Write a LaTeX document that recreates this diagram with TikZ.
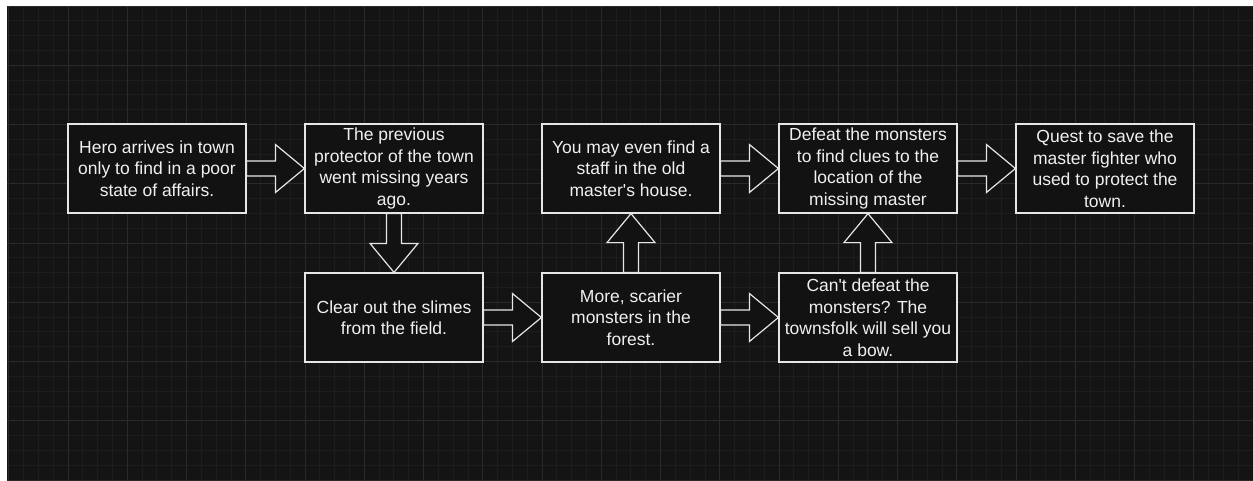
\documentclass[tikz,border=0pt]{standalone}
\usepackage{fontspec}
\setmainfont{Liberation Sans}
\usetikzlibrary{calc}
\definecolor{bgcol}{HTML}{141414}
\definecolor{boxcol}{HTML}{121212}
\definecolor{minorcol}{HTML}{1D1D1D}
\definecolor{majorcol}{HTML}{2A2A2A}
\definecolor{edgecol}{HTML}{E6E6E6}
\definecolor{textcol}{HTML}{F0F0F0}
\begin{document}
\begin{tikzpicture}[x=1pt,y=-1pt,
    stepbox/.style={draw=edgecol, fill=boxcol, text=textcol, line width=1.2pt,
        minimum width=178pt, minimum height=89pt, inner sep=0pt, align=center,
        font=\fontsize{17.5}{21.5}\selectfont},
    blockarrow/.style={draw=edgecol, fill=boxcol, line width=1.2pt, line join=miter,
        to path={($(\tikztostart)!7.5pt!90:(\tikztotarget)$)
            -- ($(\tikztotarget)!29.954pt!-14.50:(\tikztostart)$)
            -- ($(\tikztotarget)!37.643pt!-39.61:(\tikztostart)$)
            -- (\tikztotarget)
            -- ($(\tikztotarget)!37.643pt!39.61:(\tikztostart)$)
            -- ($(\tikztotarget)!29.954pt!14.50:(\tikztostart)$)
            -- ($(\tikztostart)!7.5pt!-90:(\tikztotarget)$) -- cycle}},
    minorline/.style={draw=minorcol, line width=0.8pt},
    majorline/.style={draw=majorcol, line width=1pt}]
    \useasboundingbox (0,0) rectangle (1253,480);

    % Draw background and grid
    \fill[white] (0,0) rectangle (1253,480);
    \fill[bgcol] (7,6) rectangle (1253,480);
    \foreach \k in {0,...,84}
        \draw[minorline] ({8.75+14.8125*\k},6) -- ({8.75+14.8125*\k},480);
    \foreach \k in {0,...,32}
        \draw[minorline] (7,{6+14.8125*\k}) -- (1253,{6+14.8125*\k});
    \foreach \k in {0,...,21}
        \draw[majorline] ({8.75+59.25*\k},6) -- ({8.75+59.25*\k},480);
    \foreach \k in {0,...,8}
        \draw[majorline] (7,{6+59.25*\k}) -- (1253,{6+59.25*\k});

    % Define the steps
    \node[stepbox] (Q1) at (157,168.5) {Hero arrives in town\\only to find in a poor\\state of affairs.};
    \node[stepbox] (Q2) at (394,168.5) {The previous\\protector of the town\\went missing years\\ago.};
    \node[stepbox] (Q3) at (394,317.5) {Clear out the slimes\\from the field.};
    \node[stepbox] (Q4) at (631,317.5) {More, scarier\\monsters in the\\forest.};
    \node[stepbox] (Q5) at (631,168.5) {You may even find a\\staff in the old\\master\textquotesingle s house.};
    \node[stepbox] (Q6) at (868,317.5) {Can\textquotesingle t defeat the\\monsters? The\\townsfolk will sell you\\a bow.};
    \node[stepbox] (Q7) at (868,168.5) {Defeat the monsters\\to find clues to the\\location of the\\missing master};
    \node[stepbox] (Q8) at (1105,168.5) {Quest to save the\\master fighter who\\used to protect the\\town.};

    % Draw arrows
    \draw[blockarrow] (Q1.east) to (Q2.west);
    \draw[blockarrow] (Q2.south) to (Q3.north);
    \draw[blockarrow] (Q3.east) to (Q4.west);
    \draw[blockarrow] (Q4.north) to (Q5.south);
    \draw[blockarrow] (Q4.east) to (Q6.west);
    \draw[blockarrow] (Q5.east) to (Q7.west);
    \draw[blockarrow] (Q6.north) to (Q7.south);
    \draw[blockarrow] (Q7.east) to (Q8.west);
\end{tikzpicture}
\end{document}
